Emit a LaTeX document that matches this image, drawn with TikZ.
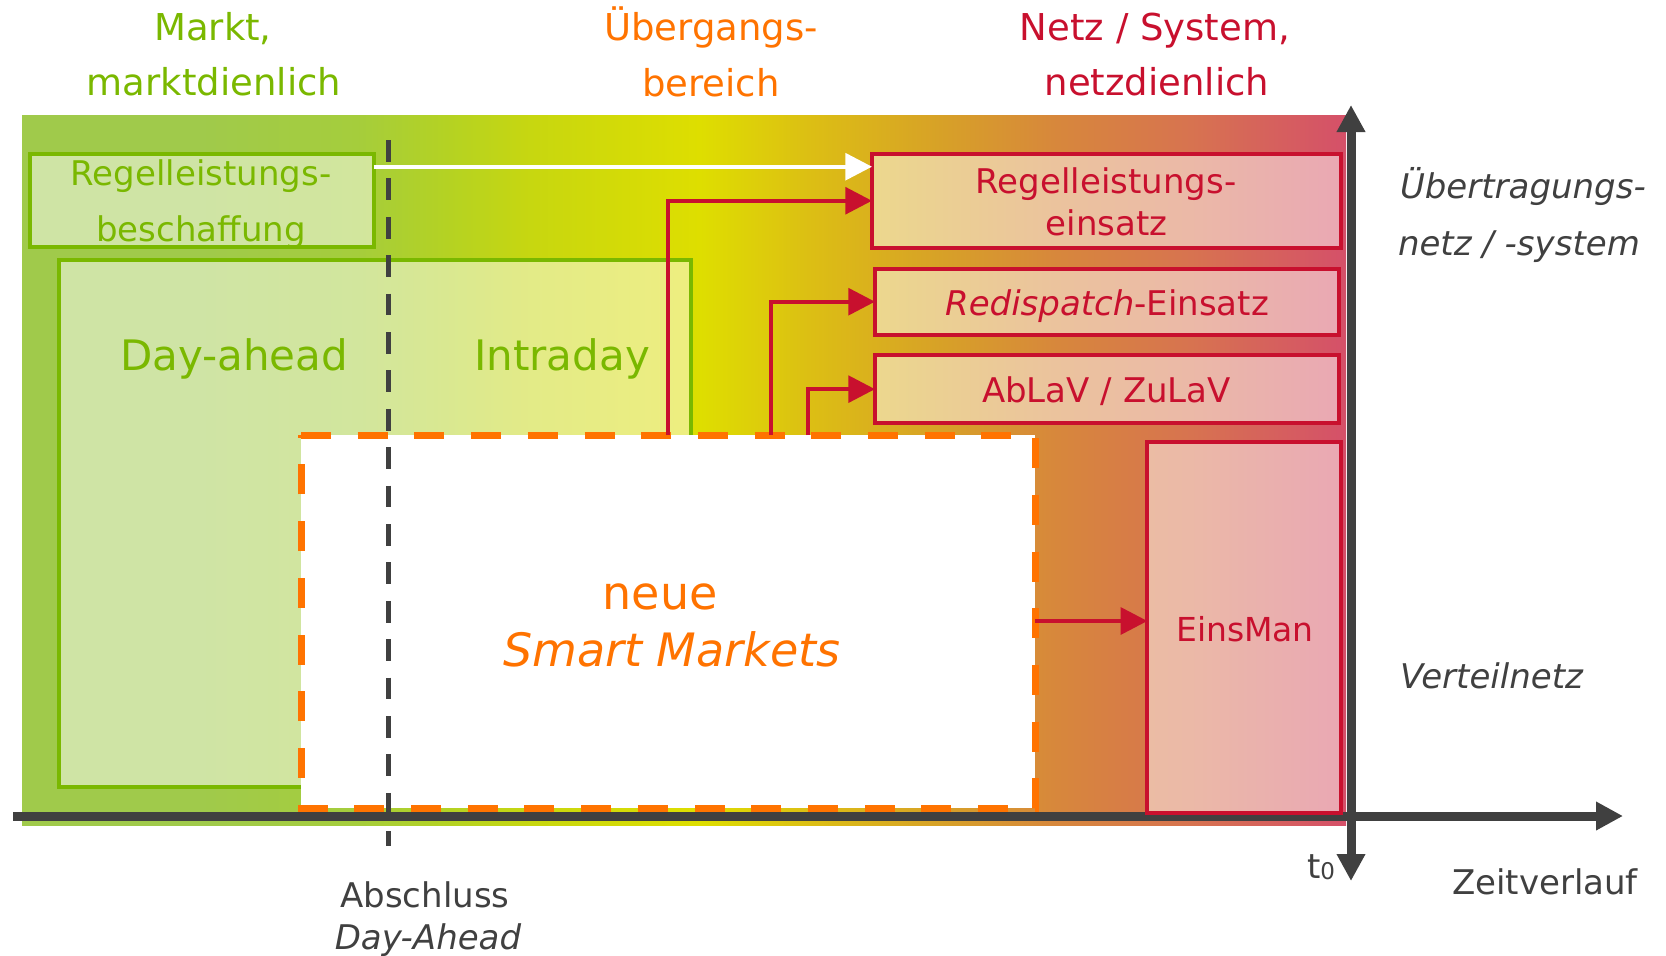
\documentclass[tikz,border=0pt]{standalone}
\usepackage{fontspec}
\setmainfont{DejaVu Sans}
\usetikzlibrary{arrows.meta}
\definecolor{mgreen}{RGB}{122,184,0}
\definecolor{morange}{RGB}{255,115,0}
\definecolor{mred}{RGB}{200,16,46}
\definecolor{mgray}{RGB}{64,64,64}
\definecolor{b0}{RGB}{160,202,75}
\definecolor{b1}{RGB}{160,202,75}
\definecolor{b2}{RGB}{165,205,60}
\definecolor{b3}{RGB}{180,210,35}
\definecolor{b4}{RGB}{200,215,15}
\definecolor{b5}{RGB}{222,222,0}
\definecolor{b6}{RGB}{220,190,20}
\definecolor{b7}{RGB}{215,160,40}
\definecolor{b8}{RGB}{215,135,60}
\definecolor{b9}{RGB}{215,115,80}
\definecolor{b10}{RGB}{213,80,105}
\pgfdeclarehorizontalshading{bgshade}{100bp}{color(0bp)=(b0); color(25bp)=(b0); color(31.72bp)=(b1); color(37.65bp)=(b2); color(41.01bp)=(b3); color(44.41bp)=(b4); color(50.60bp)=(b5); color(54.83bp)=(b6); color(59.86bp)=(b7); color(64.09bp)=(b8); color(69.15bp)=(b9); color(75bp)=(b10); color(100bp)=(b10)}
\begin{document}
\begin{tikzpicture}[x=1pt,y=-1pt,
  boxbase/.style={draw, line width=4pt, fill=white, fill opacity=0.5, inner sep=0pt, outer sep=0pt},
  gbox/.style={boxbase, draw=mgreen},
  rbox/.style={boxbase, draw=mred},
  lbl/.style={anchor=base, inner sep=0pt, outer sep=0pt},
  lblw/.style={anchor=base west, inner sep=0pt, outer sep=0pt},
  fhead/.style={font=\fontsize{37}{44}\selectfont},
  fbox/.style={font=\fontsize{34}{40}\selectfont},
  fbig/.style={font=\fontsize{42}{50}\selectfont},
  fsm/.style={font=\fontsize{46}{54}\selectfont},
  redarrow/.style={draw=mred, line width=4pt, -{Triangle[length=26.7pt,width=26.7pt]}},
  whitearrow/.style={draw=white, line width=4pt, -{Triangle[length=26.7pt,width=26.7pt]}},
  axisline/.style={draw=mgray, line width=9pt},
  axtip/.tip={Triangle[length=27pt,width=27pt]},
  dayline/.style={draw=mgray, line width=5pt, dash pattern=on 21.7pt off 16.7pt},
  smborder/.style={draw=morange, line width=7pt, dash pattern=on 30pt off 26.7pt}
]
\useasboundingbox (0,0) rectangle (1666,956);
% background
\shade[shading=bgshade] (22,115) rectangle (1346,825);
% boxes
\node[gbox, minimum width=344.1pt, minimum height=93.6pt] (rb) at (201.65,200.5) {};
\node[gbox, minimum width=632pt, minimum height=526.7pt] (da) at (374.5,523.65) {};
\node[rbox, minimum width=469pt, minimum height=94.5pt] (re) at (1106.5,200.75) {};
\node[rbox, minimum width=464pt, minimum height=66pt] (rd) at (1107,301.7) {};
\node[rbox, minimum width=464pt, minimum height=67.7pt] (ab) at (1107,389.15) {};
% smart markets
\node[fill=white, inner sep=0pt, outer sep=0pt, minimum width=734pt, minimum height=373pt] (sm) at (668,621.5) {};
\draw[smborder] (sm.north west) -- (sm.north east) -- (sm.south east) -- (sm.south west) -- cycle;
% day-ahead closure line
\coordinate (d0) at (388,140);
\coordinate (d1) at (388,846);
\draw[dayline] (d0) -- (d1);
% axes
\coordinate (xa0) at (13,816);
\coordinate (xa1) at (1623,816);
\draw[axisline, -axtip] (xa0) -- (xa1);
\coordinate (ya0) at (1351,881);
\coordinate (ya1) at (1351,105);
\draw[axisline, axtip-axtip] (ya0) -- (ya1);
% EinsMan box
\node[rbox, minimum width=193.6pt, minimum height=371.3pt] (em) at (1244.2,627.65) {};
% connectors
\coordinate (c1) at (668.3,435);
\coordinate (c2) at (770.7,435);
\coordinate (c3) at (808.3,435);
\draw[redarrow] (c1) |- (re.west);
\draw[redarrow] (c2) |- (rd.west);
\draw[redarrow] (c3) |- (ab.west);
\coordinate (w0) at (373.7,166.7);
\draw[whitearrow] (w0) -- (w0 -| re.west);
\coordinate (e0) at (1035,621);
\draw[redarrow] (e0) -- (e0 -| em.west);
% headers
\node[lbl, fhead, text=mgreen] (h1a) at (213,40) {Markt,};
\node[lbl, fhead, text=mgreen] (h1b) at (214,95) {marktdienlich};
\node[lbl, fhead, text=morange] (h2a) at (711,40) {Übergangs-};
\node[lbl, fhead, text=morange] (h2b) at (711,96) {bereich};
\node[lbl, fhead, text=mred] (h3a) at (1155,40) {Netz / System,};
\node[lbl, fhead, text=mred] (h3b) at (1157,95.7) {netzdienlich};
% box labels
\node[lbl, fbox, text=mgreen] (t1a) at (201,185) {Regelleistungs-};
\node[lbl, fbox, text=mgreen] (t1b) at (201,241.7) {beschaffung};
\node[lbl, fbig, text=mgreen] (t2) at (234,370) {Day-ahead};
\node[lbl, fbig, text=mgreen] (t3) at (562,370) {Intraday};
\node[lbl, fbox, text=mred] (t4a) at (1106,193.3) {Regelleistungs-};
\node[lbl, fbox, text=mred] (t4b) at (1106.5,235) {einsatz};
\node[lbl, fbox, text=mred] (t5) at (1107,315) {\textit{Redispatch}-Einsatz};
\node[lbl, fbox, text=mred] (t6) at (1106.5,402.7) {AbLaV / ZuLaV};
\node[lbl, font=\fontsize{33}{40}\selectfont, text=mred] (t7) at (1245,641.3) {EinsMan};
\node[lbl, fsm, text=morange] (t8a) at (660,609.7) {neue};
\node[lbl, fsm, text=morange] (t8b) at (672,666.3) {\textit{Smart Markets}};
% side labels
\node[lblw, fbox, text=mgray] (s1a) at (1400,198.3) {\textit{Übertragungs-}};
\node[lblw, fbox, text=mgray] (s1b) at (1398,255) {\textit{netz / -system}};
\node[lblw, fbox, text=mgray] (s2) at (1400,688) {\textit{Verteilnetz}};
\node[lbl, fbox, text=mgray] (s3) at (1545,894) {Zeitverlauf};
\node[lbl, fbox, text=mgray] (s4) at (1321,878) {t\raisebox{-1pt}{\fontsize{23}{28}\selectfont 0}};
\node[lbl, fbox, text=mgray] (s5a) at (425,907.3) {Abschluss};
\node[lbl, fbox, text=mgray] (s5b) at (428,949) {\textit{Day-Ahead}};
\end{tikzpicture}
\end{document}
